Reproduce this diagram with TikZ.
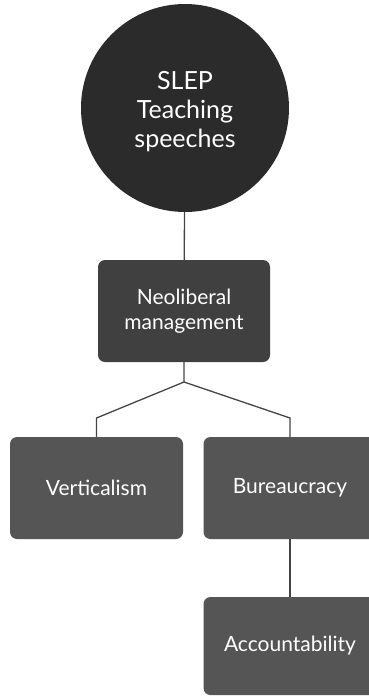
\documentclass[tikz,border=0pt]{standalone}
\usepackage{fontspec}
\setmainfont{Lato}
\definecolor{circfill}{HTML}{2B2B2B}
\definecolor{neofill}{HTML}{404040}
\definecolor{boxfill}{HTML}{555555}
\definecolor{linec}{HTML}{454545}
\begin{document}
\begin{tikzpicture}[x=1pt,y=-1pt,
  conn/.style={draw=linec,line width=1.3pt},
  topcirc/.style={circle,fill=circfill,minimum size=208pt,inner sep=0pt,text=white,align=center,font=\fontsize{25}{29}\selectfont},
  boxn/.style={rectangle,rounded corners=7pt,fill=boxfill,minimum width=173pt,minimum height=102pt,inner sep=0pt,text=white,align=center,font=\fontsize{21}{25}\selectfont}]
\useasboundingbox (0,0) rectangle (369,697);
\node[topcirc] (slep) at (185,108) {};
\node[align=center,text=white,font=\fontsize{25}{29}\selectfont] (slept) at (185,112) {SLEP\\Teaching\\speeches};
\node[boxn,fill=neofill,minimum width=172pt] (neo) at (184,311) {Neoliberal\\management};
\node[boxn] (vert) at (96.5,488) {Verticalism};
\node[boxn] (bur) at (290,488) {Bureaucracy};
\node[boxn,minimum height=98pt] (acc) at (290,646) {Accountability};
\coordinate (j) at (184,382);
\coordinate (jl) at (96.5,418);
\coordinate (jr) at (290,418);
\draw[conn] (slep) -- (neo);
\draw[conn] (neo) -- (j) -- (jl) -- (vert);
\draw[conn] (j) -- (jr) -- (bur);
\draw[conn] (bur) -- (acc);
\end{tikzpicture}
\end{document}
